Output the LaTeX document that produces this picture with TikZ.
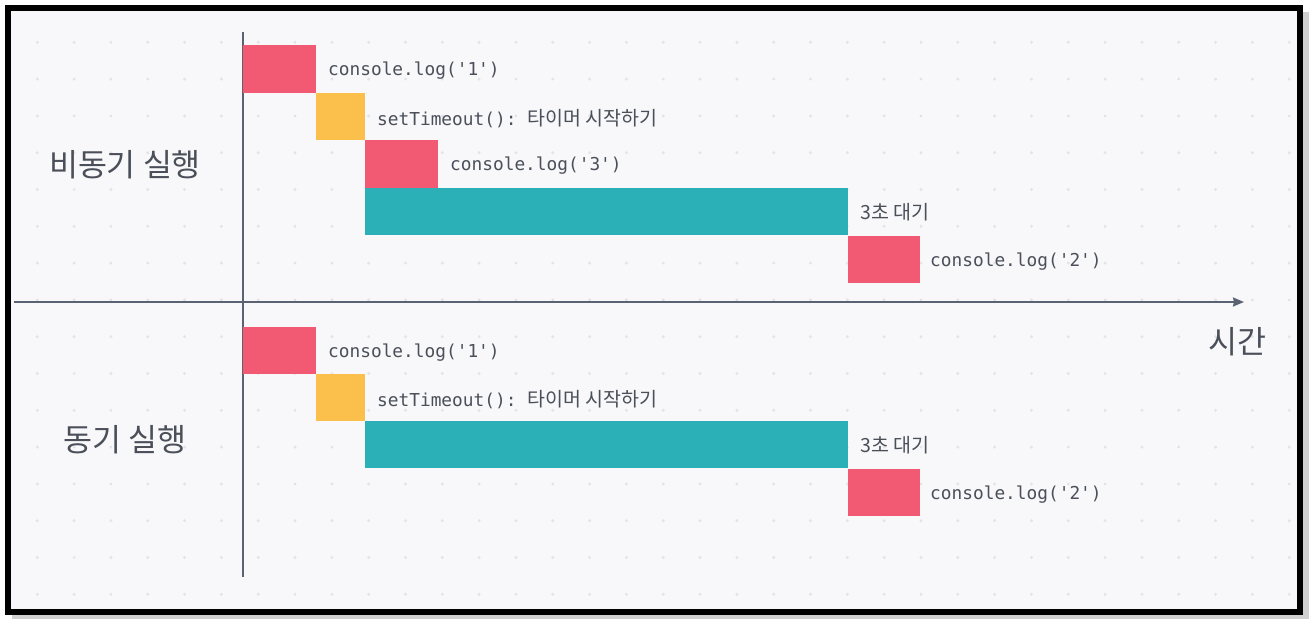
\documentclass[tikz,border=0pt]{standalone}
\usepackage{fontspec}
\setmonofont{DejaVu Sans Mono}
\newfontfamily\kr{Noto Sans CJK KR}
\usetikzlibrary{arrows.meta}
\definecolor{bg}{HTML}{F8F8FA}
\definecolor{dotc}{HTML}{E2E3E8}
\definecolor{redb}{HTML}{F25A73}
\definecolor{yelb}{HTML}{FBBF4C}
\definecolor{tealb}{HTML}{2BB0B8}
\definecolor{txt}{HTML}{4A4F59}
\definecolor{axisc}{HTML}{5B6272}
\tikzset{
  bar/.style={anchor=north west, inner sep=0pt, outer sep=0pt, draw=none},
  redbar/.style={bar, fill=redb, minimum width=73pt, minimum height=48pt},
  yelbar/.style={bar, fill=yelb, minimum width=49pt, minimum height=47pt},
  tealbar/.style={bar, fill=tealb, minimum width=483pt, minimum height=47pt},
  code/.style={anchor=west, inner sep=0pt, text=txt, font=\ttfamily\fontsize{17.8}{20}\selectfont},
  krlab/.style={anchor=west, inner sep=0pt, text=txt, font=\kr\fontsize{19.5}{22}\selectfont},
  biglab/.style={inner sep=0pt, text=txt, font=\kr\fontsize{31.5}{36}\selectfont},
  axisline/.style={draw=axisc, line width=2pt},
}
\begin{document}
\begin{tikzpicture}[x=1pt,y=-1pt]
\useasboundingbox (0,0) rectangle (1316,629);
\fill[white] (0,0) rectangle (1316,629);
% shadow
\fill[black!30, opacity=0.6] (12,12) rectangle (1309,619);
% frame
\fill[bg] (8,8) rectangle (1300,612);
% dots
\foreach \i in {0,...,34} {
  \foreach \j in {0,...,15} {
    \fill[dotc] ({37.3+36.82*\i},{42.3+36.8*\j}) circle (1.6pt);
  }
}
\draw[black, line width=6pt] (8,8) rectangle (1300,612);
% axes
\coordinate (hs) at (14,302);
\coordinate (he) at (1244,302);
\coordinate (vs) at (243,32);
\coordinate (ve) at (243,577);
\draw[axisline] (vs) -- (ve);
\draw[axisline, -{Stealth[length=11pt,width=9pt,inset=1pt]}] (hs) -- (he);
% labels left
\node[biglab] (async) at (125,165) {비동기 실행};
\node[biglab] (sync) at (125,440) {동기 실행};
\node[biglab] (time) at (1237,342) {시간};
% top bars
\node[redbar] (a1) at (243,45) {};
\node[yelbar] (a2) at (316,93) {};
\node[redbar] (a3) at (365,140) {};
\node[tealbar] (a4) at (365,188) {};
\node[redbar, minimum width=72pt, minimum height=47pt] (a5) at (848,236) {};
\node[code] (la1) at ([xshift=12pt,yshift=-2pt]a1.east) {console.log('1')};
\node[code] (la2) at ([xshift=12pt,yshift=-2pt]a2.east) {setTimeout():\ {\kr\fontsize{19.5}{22}\selectfont 타이머 시작하기}};
\node[code] (la3) at ([xshift=12pt,yshift=-2pt]a3.east) {console.log('3')};
\node[krlab] (la4) at ([xshift=12pt,yshift=-1pt]a4.east) {3초 대기};
\node[code] (la5) at ([xshift=10pt,yshift=-2pt]a5.east) {console.log('2')};
% bottom bars
\node[redbar, minimum height=47pt] (b1) at (243,327) {};
\node[yelbar] (b2) at (316,374) {};
\node[tealbar] (b3) at (365,421) {};
\node[redbar, minimum width=72pt, minimum height=47pt] (b4) at (848,469) {};
\node[code] (lb1) at ([xshift=12pt,yshift=-2pt]b1.east) {console.log('1')};
\node[code] (lb2) at ([xshift=12pt,yshift=-2pt]b2.east) {setTimeout():\ {\kr\fontsize{19.5}{22}\selectfont 타이머 시작하기}};
\node[krlab] (lb3) at ([xshift=12pt,yshift=-1pt]b3.east) {3초 대기};
\node[code] (lb4) at ([xshift=10pt,yshift=-2pt]b4.east) {console.log('2')};
\end{tikzpicture}
\end{document}
